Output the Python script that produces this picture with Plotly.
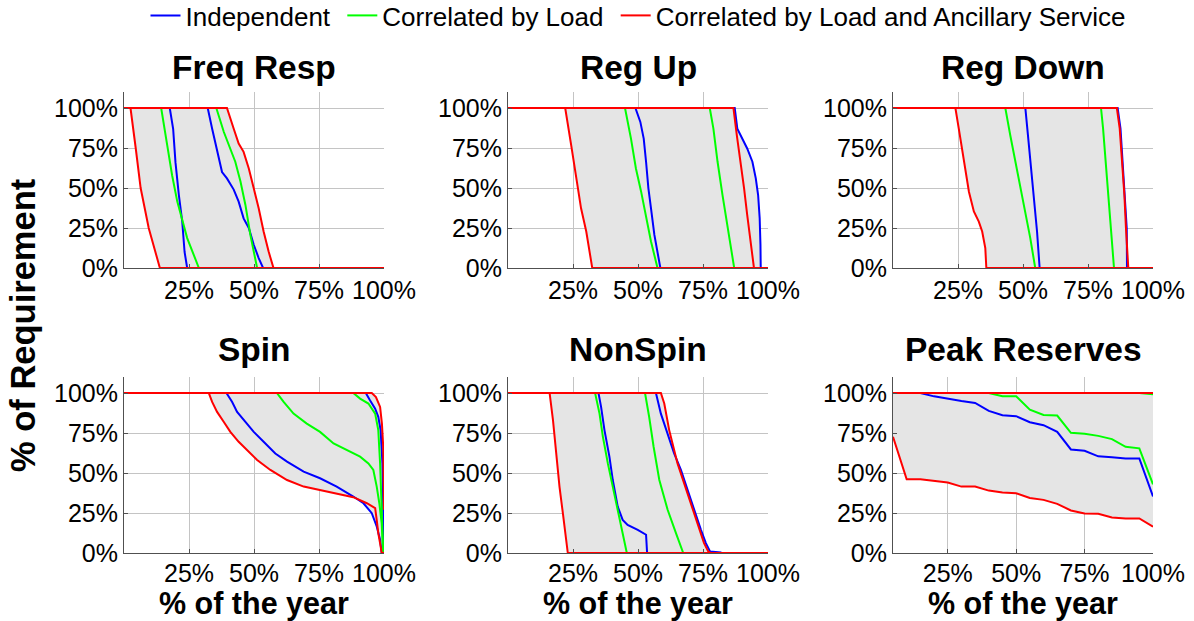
import numpy as np
import plotly.graph_objects as go

# ---------------- DATA ----------------
panel_titles = ["Freq Resp", "Reg Up", "Reg Down", "Spin", "NonSpin", "Peak Reserves"]
series_names = ["Independent", "Correlated by Load", "Correlated by Load and Ancillary Service"]
series_colors = ["#0000FF", "#00FF00", "#FF0000"]

y_tick_vals = [0, 0.25, 0.5, 0.75, 1.0]
y_tick_text = ["0%", "25%", "50%", "75%", "100%"]
x_tick_vals = [0.25, 0.5, 0.75, 1.0]
x_tick_text = ["25%", "50%", "75%", "100%"]
x_label = "% of the year"
y_label = "% of Requirement"

# Freq Resp
freq_ind_lo_x = [0, 0.176, 0.189, 0.198, 0.211, 0.224, 0.233, 0.243, 1]
freq_ind_lo_y = [1, 1, 0.87, 0.66, 0.456, 0.29, 0.10, 0, 0]
freq_ind_hi_x = [0, 0.322, 0.339, 0.358, 0.377, 0.396, 0.422, 0.441, 0.46, 0.48, 0.499, 0.518, 0.535, 1]
freq_ind_hi_y = [1, 1, 0.87, 0.73, 0.60, 0.56, 0.49, 0.415, 0.31, 0.25, 0.145, 0.062, 0, 0]
freq_cor_lo_x = [0, 0.143, 0.166, 0.185, 0.205, 0.224, 0.243, 0.288, 1]
freq_cor_lo_y = [1, 1, 0.77, 0.58, 0.415, 0.30, 0.187, 0, 0]
freq_cor_hi_x = [0, 0.355, 0.384, 0.409, 0.428, 0.448, 0.467, 0.486, 0.505, 0.512, 1]
freq_cor_hi_y = [1, 1, 0.85, 0.747, 0.664, 0.54, 0.394, 0.207, 0.062, 0, 0]
freq_anc_lo_x = [0, 0.025, 0.045, 0.064, 0.095, 0.138, 1]
freq_anc_lo_y = [1, 1, 0.75, 0.5, 0.25, 0, 0]
freq_anc_hi_x = [0, 0.396, 0.422, 0.441, 0.46, 0.48, 0.499, 0.518, 0.537, 0.556, 0.575, 1]
freq_anc_hi_y = [1, 1, 0.87, 0.778, 0.726, 0.622, 0.498, 0.373, 0.228, 0.104, 0, 0]

# Reg Up
regup_ind_lo_x = [0, 0.49, 0.509, 0.522, 0.531, 0.54, 0.55, 0.563, 0.586, 1]
regup_ind_lo_y = [1, 1, 0.913, 0.809, 0.664, 0.498, 0.373, 0.207, 0, 0]
regup_ind_hi_x = [0, 0.872, 0.882, 0.902, 0.92, 0.94, 0.953, 0.962, 0.968, 0.971, 0.972, 1]
regup_ind_hi_y = [1, 1, 0.871, 0.809, 0.747, 0.664, 0.56, 0.456, 0.311, 0.145, 0, 0]
regup_cor_lo_x = [0, 0.45, 0.473, 0.492, 0.512, 0.531, 0.55, 0.575, 1]
regup_cor_lo_y = [1, 1, 0.809, 0.622, 0.477, 0.311, 0.166, 0, 0]
regup_cor_hi_x = [0, 0.776, 0.79, 0.806, 0.825, 0.844, 0.87, 1]
regup_cor_hi_y = [1, 1, 0.871, 0.664, 0.456, 0.27, 0, 0]
regup_anc_lo_x = [0, 0.22, 0.243, 0.262, 0.281, 0.301, 0.324, 1]
regup_anc_lo_y = [1, 1, 0.768, 0.56, 0.373, 0.228, 0, 0]
regup_anc_hi_x = [0, 0.867, 0.88, 0.895, 0.908, 0.92, 0.933, 0.946, 1]
regup_anc_hi_y = [1, 1, 0.83, 0.664, 0.498, 0.332, 0.166, 0, 0]

# Reg Down
regdn_ind_lo_x = [0, 0.509, 0.519, 0.532, 0.544, 0.554, 0.564, 1]
regdn_ind_lo_y = [1, 1, 0.83, 0.622, 0.415, 0.228, 0, 0]
regdn_ind_hi_x = [0, 0.864, 0.875, 0.883, 0.892, 0.899, 0.90, 1]
regdn_ind_hi_y = [1, 1, 0.871, 0.664, 0.456, 0.249, 0, 0]
regdn_cor_lo_x = [0, 0.432, 0.451, 0.471, 0.49, 0.509, 0.528, 0.547, 1]
regdn_cor_lo_y = [1, 1, 0.83, 0.664, 0.519, 0.353, 0.187, 0, 0]
regdn_cor_hi_x = [0, 0.80, 0.808, 0.818, 0.828, 0.839, 0.85, 1]
regdn_cor_hi_y = [1, 1, 0.871, 0.664, 0.456, 0.249, 0, 0]
regdn_anc_lo_x = [0, 0.24, 0.253, 0.272, 0.292, 0.311, 0.33, 0.343, 0.355, 0.359, 1]
regdn_anc_lo_y = [1, 1, 0.871, 0.664, 0.477, 0.353, 0.29, 0.228, 0.124, 0, 0]
regdn_anc_hi_x = [0, 0.861, 0.872, 0.882, 0.89, 0.896, 0.905, 1]
regdn_anc_hi_y = [1, 1, 0.871, 0.664, 0.456, 0.249, 0, 0]

# Spin
spin_ind_lo_x = [0, 0.394, 0.416, 0.435, 0.467, 0.499, 0.537, 0.582, 0.627, 0.691, 0.754, 0.818, 0.882, 0.921, 0.953, 0.972, 0.985, 0.991, 1]
spin_ind_lo_y = [1, 1, 0.944, 0.882, 0.819, 0.757, 0.695, 0.622, 0.571, 0.508, 0.467, 0.415, 0.353, 0.311, 0.249, 0.166, 0.083, 0, 0]
spin_ind_hi_x = [0, 0.93, 0.946, 0.966, 0.978, 0.987, 0.994, 0.997, 0.999, 1]
spin_ind_hi_y = [1, 1, 0.954, 0.902, 0.851, 0.768, 0.56, 0.249, 0, 0]
spin_cor_lo_x = [0, 0.588, 0.614, 0.652, 0.703, 0.754, 0.806, 0.857, 0.908, 0.94, 0.959, 0.972, 0.982, 0.991, 0.997, 1]
spin_cor_lo_y = [1, 1, 0.944, 0.871, 0.809, 0.757, 0.685, 0.643, 0.602, 0.56, 0.519, 0.415, 0.311, 0.187, 0, 0]
spin_cor_hi_x = [0, 0.882, 0.908, 0.94, 0.966, 0.978, 0.985, 0.991, 0.997, 1]
spin_cor_hi_y = [1, 1, 0.965, 0.934, 0.871, 0.768, 0.56, 0.29, 0, 0]
spin_anc_lo_x = [0, 0.326, 0.339, 0.358, 0.384, 0.409, 0.441, 0.473, 0.512, 0.563, 0.627, 0.691, 0.754, 0.818, 0.882, 0.934, 0.966, 0.972, 0.978, 0.987, 0.991, 1]
spin_anc_lo_y = [1, 1, 0.944, 0.882, 0.819, 0.757, 0.695, 0.643, 0.581, 0.519, 0.456, 0.415, 0.394, 0.373, 0.349, 0.311, 0.28, 0.207, 0.124, 0.041, 0, 0]
spin_anc_hi_x = [0, 0.953, 0.969, 0.985, 0.992, 0.997, 1.0]
spin_anc_hi_y = [1, 1, 0.975, 0.913, 0.809, 0.664, 0.27]

# NonSpin
nspin_ind_lo_x = [0, 0.348, 0.358, 0.371, 0.39, 0.403, 0.422, 0.441, 0.46, 0.499, 0.531, 0.534, 0.535, 1]
nspin_ind_lo_y = [1, 1, 0.913, 0.768, 0.602, 0.456, 0.29, 0.207, 0.176, 0.145, 0.114, 0.05, 0, 0]
nspin_ind_hi_x = [0, 0.569, 0.588, 0.614, 0.639, 0.665, 0.69, 0.716, 0.742, 0.761, 0.777, 0.818, 0.82, 1]
nspin_ind_hi_y = [1, 1, 0.871, 0.747, 0.622, 0.519, 0.394, 0.27, 0.145, 0.062, 0.01, 0.004, 0, 0]
nspin_cor_lo_x = [0, 0.335, 0.352, 0.365, 0.384, 0.403, 0.422, 0.441, 0.457, 1]
nspin_cor_lo_y = [1, 1, 0.871, 0.726, 0.56, 0.415, 0.249, 0.104, 0, 0]
nspin_cor_hi_x = [0, 0.527, 0.543, 0.56, 0.582, 0.614, 0.646, 0.674, 1]
nspin_cor_hi_y = [1, 1, 0.85, 0.664, 0.456, 0.27, 0.124, 0, 0]
nspin_anc_lo_x = [0, 0.16, 0.173, 0.185, 0.198, 0.211, 0.23, 1]
nspin_anc_lo_y = [1, 1, 0.83, 0.622, 0.415, 0.249, 0, 0]
nspin_anc_hi_x = [0, 0.588, 0.601, 0.62, 0.652, 0.69, 0.722, 0.754, 0.77, 0.78, 1]
nspin_anc_hi_y = [1, 1, 0.934, 0.768, 0.56, 0.373, 0.207, 0.062, 0.01, 0, 0]

# Peak Reserves (sampled every 5% of the year)
peak_x = [0.05, 0.10, 0.15, 0.20, 0.25, 0.30, 0.35, 0.40, 0.45, 0.50,
          0.55, 0.60, 0.65, 0.70, 0.75, 0.80, 0.85, 0.90, 0.95, 1.00]
peak_ind_lo_y = [1.0, 1.0, 1.0, 0.979, 0.963, 0.95, 0.938, 0.888, 0.861, 0.855,
                 0.817, 0.799, 0.757, 0.647, 0.639, 0.604, 0.598, 0.591, 0.591, 0.353]
peak_ind_hi_y = [1.0] * 20
peak_cor_lo_y = [1.0, 1.0, 1.0, 1.0, 1.0, 1.0, 1.0, 1.0, 0.98, 0.98,
                 0.896, 0.863, 0.859, 0.751, 0.745, 0.732, 0.712, 0.664, 0.654, 0.429]
peak_cor_hi_y = [1.0, 1.0, 1.0, 1.0, 1.0, 1.0, 1.0, 1.0, 1.0, 1.0,
                 1.0, 1.0, 1.0, 1.0, 1.0, 1.0, 1.0, 1.0, 1.0, 0.992]
peak_anc_lo_y = [0.726, 0.461, 0.461, 0.452, 0.44, 0.415, 0.415, 0.39, 0.378, 0.373,
                 0.344, 0.332, 0.307, 0.266, 0.247, 0.245, 0.222, 0.216, 0.216, 0.164]
peak_anc_hi_y = [1.0] * 20

x_ranges = [[0, 1], [0, 1], [0, 1], [0, 1], [0, 1], [0.05, 1]]

panels = [
    [(freq_ind_lo_x, freq_ind_lo_y), (freq_ind_hi_x, freq_ind_hi_y),
     (freq_cor_lo_x, freq_cor_lo_y), (freq_cor_hi_x, freq_cor_hi_y),
     (freq_anc_lo_x, freq_anc_lo_y), (freq_anc_hi_x, freq_anc_hi_y)],
    [(regup_ind_lo_x, regup_ind_lo_y), (regup_ind_hi_x, regup_ind_hi_y),
     (regup_cor_lo_x, regup_cor_lo_y), (regup_cor_hi_x, regup_cor_hi_y),
     (regup_anc_lo_x, regup_anc_lo_y), (regup_anc_hi_x, regup_anc_hi_y)],
    [(regdn_ind_lo_x, regdn_ind_lo_y), (regdn_ind_hi_x, regdn_ind_hi_y),
     (regdn_cor_lo_x, regdn_cor_lo_y), (regdn_cor_hi_x, regdn_cor_hi_y),
     (regdn_anc_lo_x, regdn_anc_lo_y), (regdn_anc_hi_x, regdn_anc_hi_y)],
    [(spin_ind_lo_x, spin_ind_lo_y), (spin_ind_hi_x, spin_ind_hi_y),
     (spin_cor_lo_x, spin_cor_lo_y), (spin_cor_hi_x, spin_cor_hi_y),
     (spin_anc_lo_x, spin_anc_lo_y), (spin_anc_hi_x, spin_anc_hi_y)],
    [(nspin_ind_lo_x, nspin_ind_lo_y), (nspin_ind_hi_x, nspin_ind_hi_y),
     (nspin_cor_lo_x, nspin_cor_lo_y), (nspin_cor_hi_x, nspin_cor_hi_y),
     (nspin_anc_lo_x, nspin_anc_lo_y), (nspin_anc_hi_x, nspin_anc_hi_y)],
    [(peak_x, peak_ind_lo_y), (peak_x, peak_ind_hi_y),
     (peak_x, peak_cor_lo_y), (peak_x, peak_cor_hi_y),
     (peak_x, peak_anc_lo_y), (peak_x, peak_anc_hi_y)],
]

# ---------------- FIGURE ----------------
W, H = 1194, 621
FONT = "Arial, Liberation Sans, Helvetica, sans-serif"
x_doms = [[124 / W, 384 / W], [508 / W, 768 / W], [893 / W, 1153 / W]]
y_doms = [[1 - 268 / H, 1 - 92 / H], [1 - 553 / H, 1 - 377 / H]]

fig = go.Figure()
layout = {}
for i, curves in enumerate(panels):
    r, c = divmod(i, 3)
    n = "" if i == 0 else str(i + 1)
    xa, ya = "x" + n, "y" + n
    # gray envelope between the outermost curves
    xg = np.linspace(x_ranges[i][0], x_ranges[i][1], 2001)
    interps = np.array([np.interp(xg, np.asarray(cx, float), np.asarray(cy, float)) for cx, cy in curves])
    lo, hi = interps.min(axis=0), interps.max(axis=0)
    fig.add_trace(go.Scatter(x=xg, y=lo, mode="lines", line=dict(width=0), hoverinfo="skip",
                             showlegend=False, xaxis=xa, yaxis=ya))
    fig.add_trace(go.Scatter(x=xg, y=hi, mode="lines", line=dict(width=0), fill="tonexty",
                             fillcolor="rgb(229,229,229)", hoverinfo="skip",
                             showlegend=False, xaxis=xa, yaxis=ya))
    for k, (cx, cy) in enumerate(curves):
        s = k // 2
        label = series_names[s] + ("\u00a0" if s < 2 else "")
        fig.add_trace(go.Scatter(x=cx, y=cy, mode="lines",
                                 line=dict(color=series_colors[s], width=2),
                                 name=label, legendgroup=series_names[s],
                                 showlegend=(i == 0 and k % 2 == 0),
                                 xaxis=xa, yaxis=ya))
    common = dict(showline=True, linecolor="#505050", linewidth=1, ticks="inside", ticklen=4,
                  tickcolor="#505050", showgrid=True, gridcolor="#c4c4c4", gridwidth=1,
                  zeroline=False, automargin=False,
                  tickfont=dict(family=FONT, size=25, color="black"))
    layout["xaxis" + n] = dict(common, domain=x_doms[c], anchor=ya, range=x_ranges[i],
                               tickvals=x_tick_vals, ticktext=x_tick_text,
                               ticklabelstandoff=(-2 if r == 1 else 0))
    layout["yaxis" + n] = dict(common, domain=y_doms[r], anchor=xa, range=[0, 1.1],
                               tickvals=y_tick_vals, ticktext=y_tick_text)

annotations = []
title_y = [1 - 67 / H, 1 - 349 / H]
for i, t in enumerate(panel_titles):
    r, c = divmod(i, 3)
    annotations.append(dict(text="<b>%s</b>" % t, x=sum(x_doms[c]) / 2, y=title_y[r],
                            xref="paper", yref="paper", xanchor="center", yanchor="middle",
                            showarrow=False, font=dict(family=FONT, size=33.5, color="black")))
for c in range(3):
    annotations.append(dict(text="<b>%s</b>" % x_label, x=sum(x_doms[c]) / 2, y=1 - 603 / H,
                            xref="paper", yref="paper", xanchor="center", yanchor="middle",
                            showarrow=False, font=dict(family=FONT, size=30.5, color="black")))
annotations.append(dict(text="<b>%s</b>" % y_label, x=23 / W, y=1 - 325 / H, textangle=-90,
                        xref="paper", yref="paper", xanchor="center", yanchor="middle",
                        showarrow=False, font=dict(family=FONT, size=34.5, color="black")))

fig.update_layout(
    **layout,
    autosize=True,
    margin=dict(l=0, r=0, t=0, b=0, autoexpand=False),
    paper_bgcolor="white", plot_bgcolor="white",
    annotations=annotations,
    legend=dict(orientation="h", x=638 / W, xanchor="center", y=1 + 8 / H, yanchor="top",
                font=dict(family=FONT, size=26, color="black"), bgcolor="rgba(0,0,0,0)",
                tracegroupgap=0, itemwidth=30),
    showlegend=True,
)

fig.write_html("out.html", config={"responsive": True})
